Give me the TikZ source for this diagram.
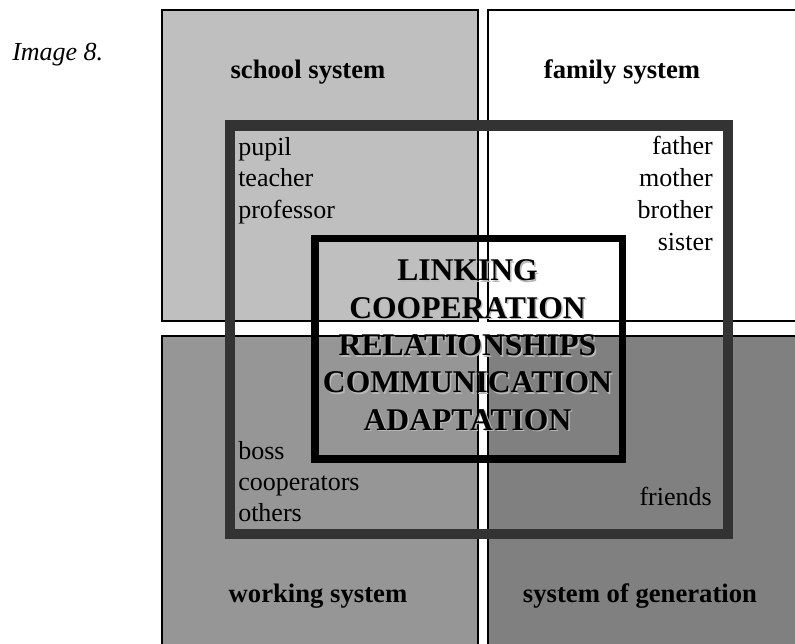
\documentclass[tikz,border=0pt]{standalone}
\usepackage{fontspec}
\setmainfont{Liberation Serif}
\usepackage{tikz}

\tikzset{
  quad/.style={draw=black, line width=1.5pt},
  sysname/.style={font=\fontsize{20}{24}\selectfont\bfseries, anchor=base, inner sep=0pt},
  member/.style={font=\fontsize{19.5}{23}\selectfont, inner sep=0pt},
  bond/.style={font=\fontsize{23.7}{28}\selectfont\bfseries, anchor=base, inner sep=0pt},
}

\begin{document}
\begin{tikzpicture}[x=0.75pt, y=-0.75pt]
\useasboundingbox (0,0) rectangle (795,643);
\clip (0,0) rectangle (795,643);
% the four systems
\filldraw[quad, fill=black!25] (161.5,10) rectangle (478,321);
\filldraw[quad, fill=white] (488,10) rectangle (810,321);
\filldraw[quad, fill=black!41] (161.5,336) rectangle (478,660);
\filldraw[quad, fill=black!50] (488,336) rectangle (810,660);
% outer and inner frame
\draw[line width=7.9pt, black!80] (230,125.5) rectangle (728,534);
\draw[line width=5.6pt, black] (315,238.5) rectangle (622.5,459);

\node[anchor=base west, font=\fontsize{19.5}{23}\selectfont\itshape, inner sep=0pt] (caption) at (12,60) {Image 8.};

\node[sysname] (school) at (308,78) {school system};
\node[sysname] (family) at (622,78) {family system};
\node[sysname] (working) at (318,602) {working system};
\node[sysname] (generation) at (640,602) {system of generation};

% who belongs to which system
\foreach \w [count=\i] in {pupil,teacher,professor}
  \node[member, anchor=base west] (pupil\i) at (238,{155+31.5*(\i-1)}) {\w};
\foreach \w [count=\i] in {father,mother,brother,sister}
  \node[member, anchor=base east] (kin\i) at (713,{154+32*(\i-1)}) {\w};
\foreach \w [count=\i] in {boss,cooperators,others}
  \node[member, anchor=base west] (work\i) at (238,{459.3+31.2*(\i-1)}) {\w};
\node[member, anchor=base east] (friends) at (712,505) {friends};

% words in the middle, with a light shadow
\foreach \w [count=\i] in {LINKING,COOPERATION,RELATIONSHIPS,COMMUNICATION,ADAPTATION} {
  \node[bond, black!28] (shade\i) at (469,{282.2+37.4*(\i-1)}) {\w};
  \node[bond] (bond\i) at (467.5,{280.7+37.4*(\i-1)}) {\w};
}
\end{tikzpicture}
\end{document}
